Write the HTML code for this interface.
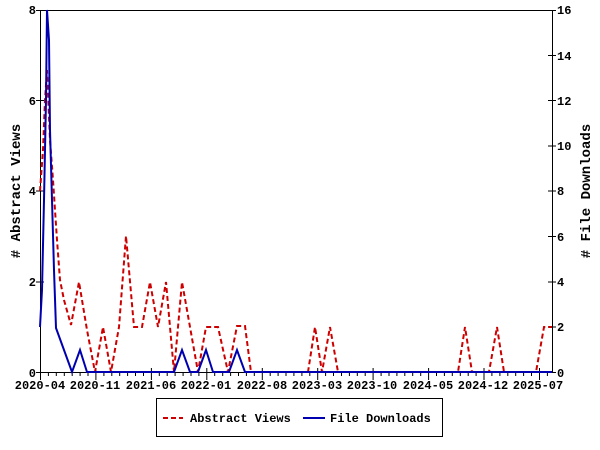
<!DOCTYPE html>
<html><head><meta charset="utf-8"><style>
html,body{margin:0;padding:0;background:#fff;}
svg{display:block;}
text{font-family:"Liberation Mono","DejaVu Sans Mono",monospace;font-weight:bold;font-size:12px;fill:#000;}
</style></head><body>
<svg width="600" height="450" viewBox="0 0 600 450" xmlns="http://www.w3.org/2000/svg">
<rect x="0" y="0" width="600" height="450" fill="#fff"/>
<rect x="40.5" y="10.5" width="512" height="362" fill="none" stroke="#000" stroke-width="1"/>
<g stroke="#000" stroke-width="1">
<line x1="36" y1="372.5" x2="44" y2="372.5"/>
<line x1="36" y1="282" x2="44" y2="282"/>
<line x1="36" y1="191" x2="44" y2="191"/>
<line x1="36" y1="100.5" x2="44" y2="100.5"/>
<line x1="36" y1="10.5" x2="44" y2="10.5"/>
<line x1="548" y1="372.5" x2="556" y2="372.5"/>
<line x1="548" y1="327" x2="556" y2="327"/>
<line x1="548" y1="282" x2="556" y2="282"/>
<line x1="548" y1="236.5" x2="556" y2="236.5"/>
<line x1="548" y1="191" x2="556" y2="191"/>
<line x1="548" y1="146" x2="556" y2="146"/>
<line x1="548" y1="100.5" x2="556" y2="100.5"/>
<line x1="548" y1="55.5" x2="556" y2="55.5"/>
<line x1="548" y1="10.5" x2="556" y2="10.5"/>
</g>
<path fill="none" stroke="#000" stroke-width="1" d="M40.5 368v12M95.9 368v12M151.4 368v12M206.8 368v12M262.3 368v12M317.7 368v12M373.1 368v12M428.6 368v12M484.0 368v12M539.5 368v12
M48.4 372v4M56.3 372v4M64.3 372v4M72.2 372v4M80.1 372v4M88.0 372v4M103.9 372v4M111.8 372v4M119.7 372v4M127.6 372v4M135.5 372v4M143.5 372v4M159.3 372v4M167.2 372v4M175.1 372v4M183.1 372v4M191.0 372v4M198.9 372v4M214.7 372v4M222.7 372v4M230.6 372v4M238.5 372v4M246.4 372v4M254.3 372v4M270.2 372v4M278.1 372v4M286.0 372v4M293.9 372v4M301.9 372v4M309.8 372v4M325.6 372v4M333.5 372v4M341.5 372v4M349.4 372v4M357.3 372v4M365.2 372v4M381.1 372v4M389.0 372v4M396.9 372v4M404.8 372v4M412.7 372v4M420.7 372v4M436.5 372v4M444.4 372v4M452.3 372v4M460.3 372v4M468.2 372v4M476.1 372v4M491.9 372v4M499.9 372v4M507.8 372v4M515.7 372v4M523.6 372v4M531.5 372v4M547.4 372v4"/>
<g text-anchor="end">
<text x="36" y="377">0</text>
<text x="36" y="286">2</text>
<text x="36" y="195">4</text>
<text x="36" y="105">6</text>
<text x="36" y="14">8</text>
</g>
<g text-anchor="start">
<text x="557" y="377">0</text>
<text x="557" y="331">2</text>
<text x="557" y="286">4</text>
<text x="557" y="241">6</text>
<text x="557" y="195">8</text>
<text x="557" y="150">10</text>
<text x="557" y="105">12</text>
<text x="557" y="60">14</text>
<text x="557" y="14">16</text>
</g>
<g text-anchor="middle">
<text x="40" y="389">2020-04</text>
<text x="95" y="389">2020-11</text>
<text x="151" y="389">2021-06</text>
<text x="206" y="389">2022-01</text>
<text x="262" y="389">2022-08</text>
<text x="317" y="389">2023-03</text>
<text x="372" y="389">2023-10</text>
<text x="428" y="389">2024-05</text>
<text x="483" y="389">2024-12</text>
<text x="538" y="389">2025-07</text>
</g>
<text x="0" y="0" text-anchor="middle" transform="translate(20,191) rotate(-90)" style="font-size:14px">#  Abstract Views</text>
<text x="0" y="0" text-anchor="middle" transform="translate(590,191) rotate(-90)" style="font-size:14px">#  File Downloads</text>
<polyline fill="none" stroke="#cc0000" stroke-width="2" stroke-dasharray="5,3" points="40,191 43,150 45,100 47,70 50,140 53,180 57,240 60,280 64,300 71,325 79,282 87,330 95,372 103,327 111,372 119,327 126,236 134,327 142,327 150,282 158,327 166,282 174,372 182,282 190,327 198,372 206,327 218,327 228,372 237,326 245,326 251,372 308,372 315,327 322,372 330,327 338,372 458,372 465,327 472,372 489,372 497,327 504,372 536,372 544,327 552,327"/>
<polyline fill="none" stroke="#0000b0" stroke-width="2" points="40,327 42,290 44,200 46,100 47,10 49,40 50,130 52,200 54,270 56,328 64,350 72,372 80,350 87,372 174,372 182,350 190,372 198,372 206,350 213,372 229,372 237,350 245,372 552,372"/>
<rect x="156.5" y="398.5" width="286" height="38" fill="#fff" stroke="#000" stroke-width="1"/>
<line x1="163" y1="418" x2="183" y2="418" stroke="#cc0000" stroke-width="2" stroke-dasharray="5,3"/>
<text x="190" y="422">Abstract Views</text>
<line x1="303" y1="418" x2="325" y2="418" stroke="#0000b0" stroke-width="2"/>
<text x="330" y="422">File Downloads</text>
</svg>
</body></html>
